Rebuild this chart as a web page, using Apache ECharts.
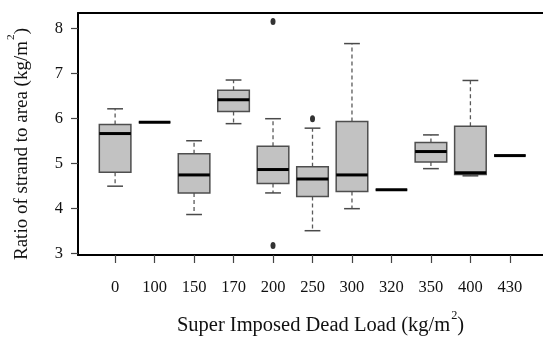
<!DOCTYPE html>
<html>
<head>
<meta charset="utf-8">
<script src="https://cdn.jsdelivr.net/npm/echarts@6/dist/echarts.min.js"></script>
<style>
  html, body { margin: 0; padding: 0; background: #ffffff; }
  #chart { width: 543px; height: 339px; }
</style>
</head>
<body>
<div id="chart"></div>
<script>
// Super imposed dead load groups (kg/m2)
const loads = ['0', '100', '150', '170', '200', '250', '300', '320', '350', '400', '430'];

// Five-number summaries of the strand-to-area ratio per group
const whiskerLow  = [4.50, 5.92, 3.87, 5.89, 4.35, 3.51, 4.00, 4.42, 4.89, 4.73, 5.18];
const quartile1   = [4.81, 5.92, 4.35, 6.16, 4.56, 4.27, 4.38, 4.42, 5.04, 4.76, 5.18];
const medians     = [5.67, 5.92, 4.75, 6.42, 4.87, 4.66, 4.75, 4.42, 5.27, 4.80, 5.18];
const quartile3   = [5.87, 5.92, 5.22, 6.63, 5.39, 4.93, 5.94, 4.42, 5.47, 5.83, 5.18];
const whiskerHigh = [6.22, 5.92, 5.51, 6.86, 6.00, 5.79, 7.67, 4.42, 5.64, 6.85, 5.18];

// Outlying observations
const outlierLoads  = ['200', '200', '250'];
const outlierValues = [8.16, 3.18, 6.00];

const yTicks = [3, 4, 5, 6, 7, 8];

const positions = loads.map((_, i) => i + 1);
const boxData = loads.map((_, i) => [i + 1, whiskerLow[i], quartile1[i], medians[i], quartile3[i], whiskerHigh[i]]);
const outlierData = outlierLoads.map((g, i) => [loads.indexOf(g) + 1, outlierValues[i]]);

const serif = 'Liberation Serif, Times New Roman, serif';
function unitRich(size) {
  return {
    t: { fontFamily: serif, fontSize: size, color: '#111', lineHeight: 26, verticalAlign: 'bottom' },
    s: { fontFamily: serif, fontSize: size * 0.6, color: '#111', lineHeight: 26, verticalAlign: 'top', padding: [0, 0, 0, 1] }
  };
}

function renderBox(params, api) {
  const x = api.value(0);
  const pLo = api.coord([x, api.value(1)]);
  const pQ1 = api.coord([x, api.value(2)]);
  const pMd = api.coord([x, api.value(3)]);
  const pQ3 = api.coord([x, api.value(4)]);
  const pHi = api.coord([x, api.value(5)]);
  const bw = api.size([1, 0])[0] * 0.8;
  const cw = bw * 0.5;
  const cx = pMd[0];
  const whisker = { stroke: '#5a5a5a', lineWidth: 1.3, lineDash: [4, 3] };
  const cap = { stroke: '#4a4a4a', lineWidth: 1.5 };
  const children = [];
  if (pHi[1] < pQ3[1]) {
    children.push({ type: 'line', shape: { x1: cx, y1: pQ3[1], x2: cx, y2: pHi[1] }, style: whisker });
    children.push({ type: 'line', shape: { x1: cx - cw / 2, y1: pHi[1], x2: cx + cw / 2, y2: pHi[1] }, style: cap });
  }
  if (pLo[1] > pQ1[1]) {
    children.push({ type: 'line', shape: { x1: cx, y1: pQ1[1], x2: cx, y2: pLo[1] }, style: whisker });
    children.push({ type: 'line', shape: { x1: cx - cw / 2, y1: pLo[1], x2: cx + cw / 2, y2: pLo[1] }, style: cap });
  }
  children.push({
    type: 'rect',
    shape: { x: cx - bw / 2, y: pQ3[1], width: bw, height: pQ1[1] - pQ3[1] },
    style: { fill: '#c2c2c2', stroke: '#4e4e4e', lineWidth: 1.5 }
  });
  children.push({
    type: 'line',
    shape: { x1: cx - bw / 2, y1: pMd[1], x2: cx + bw / 2, y2: pMd[1] },
    style: { stroke: '#000', lineWidth: 3 }
  });
  return { type: 'group', children: children };
}

const chart = echarts.init(document.getElementById('chart'), null, { renderer: 'canvas' });
chart.setOption({
  animation: false,
  backgroundColor: '#ffffff',
  grid: { left: 78, right: -4, top: 13, bottom: 84, containLabel: false, outerBoundsMode: 'none' },
  xAxis: [{
    type: 'value',
    position: 'bottom',
    min: 0.06,
    max: 11.94,
    axisLine: { show: true, onZero: false, lineStyle: { color: '#000', width: 2 } },
    axisTick: { show: true, customValues: positions, length: 8, lineStyle: { color: '#444', width: 1.2 } },
    axisLabel: {
      show: true, customValues: positions, margin: 24,
      formatter: v => loads[Math.round(v) - 1],
      fontFamily: serif, fontSize: 16.5, color: '#111'
    },
    splitLine: { show: false },
    name: '{t|Super Imposed Dead Load (kg/m}{s|2}{t|)}',
    nameLocation: 'middle',
    nameGap: 55,
    nameTextStyle: { rich: unitRich(20.5), padding: [0, 0, 0, 16] }
  }, {
    type: 'value',
    position: 'top',
    min: 0.06,
    max: 11.94,
    axisLine: { show: true, onZero: false, lineStyle: { color: '#000', width: 2 } },
    axisTick: { show: false },
    axisLabel: { show: false },
    splitLine: { show: false }
  }],
  yAxis: {
    type: 'value',
    min: 2.97,
    max: 8.35,
    axisLine: { show: true, onZero: false, lineStyle: { color: '#000', width: 2 } },
    axisTick: { show: true, customValues: yTicks, length: 7, lineStyle: { color: '#444', width: 1.2 } },
    axisLabel: {
      show: true, customValues: yTicks, margin: 15,
      fontFamily: serif, fontSize: 16.5, color: '#111'
    },
    splitLine: { show: false },
    name: '{t|Ratio of strand to area (kg/m}{s|2}{t|)}',
    nameLocation: 'middle',
    nameGap: 46,
    nameRotate: 90,
    nameTextStyle: { rich: unitRich(19), padding: [0, 20, 0, 0] }
  },
  series: [{
    type: 'custom',
    name: 'ratio',
    xAxisIndex: 0,
    yAxisIndex: 0,
    renderItem: renderBox,
    encode: { x: 0, y: [1, 2, 3, 4, 5] },
    data: boxData,
    silent: true
  }, {
    type: 'scatter',
    name: 'outliers',
    xAxisIndex: 0,
    yAxisIndex: 0,
    symbol: 'circle',
    symbolSize: [5, 7],
    itemStyle: { color: '#000' },
    data: outlierData,
    silent: true
  }]
});
</script>
</body>
</html>
